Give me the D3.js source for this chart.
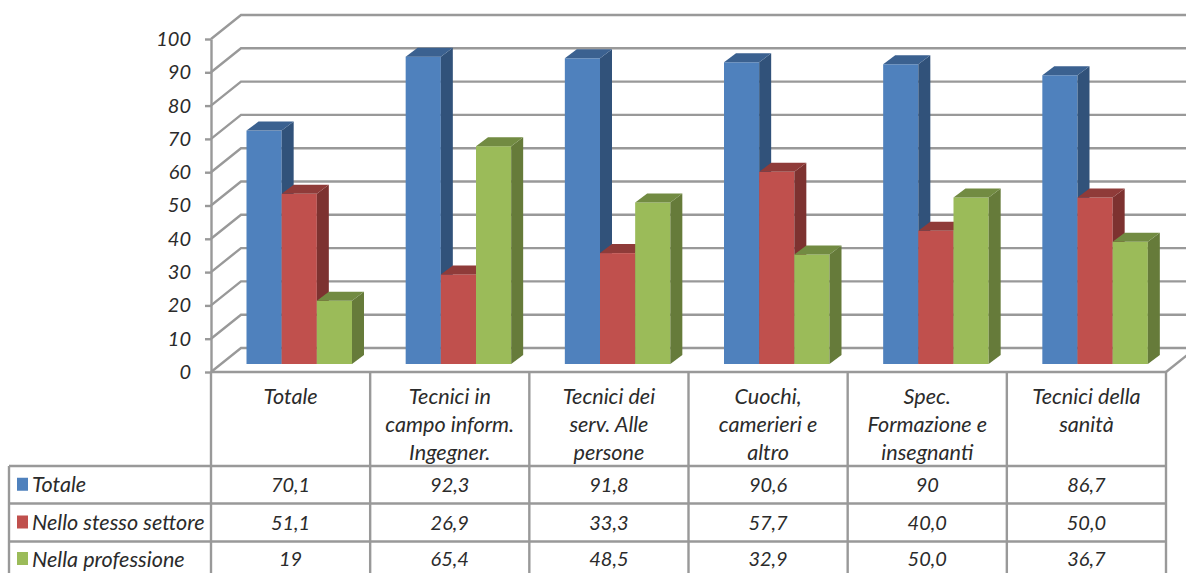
<!DOCTYPE html>
<html>
<head>
<meta charset="utf-8">
<script src="https://cdn.jsdelivr.net/npm/d3@7"></script>
<style>
	html, body { margin: 0; padding: 0; background: #fff; overflow: hidden; }
	svg { display: block; }
	text { font-family: Lato, sans-serif; font-style: italic; fill: #2b2b2b; }
</style>
</head>
<body>
<div id="chart"></div>
<script>
var categories = ['Totale', 'Tecnici in campo inform. Ingegner.', 'Tecnici dei serv. Alle persone', 'Cuochi, camerieri e altro', 'Spec. Formazione e insegnanti', 'Tecnici della sanità'];
var categoryLines = [
	['Totale'],
	['Tecnici in', 'campo inform.', 'Ingegner.'],
	['Tecnici dei', 'serv. Alle', 'persone'],
	['Cuochi,', 'camerieri e', 'altro'],
	['Spec.', 'Formazione e', 'insegnanti'],
	['Tecnici della', 'sanità']
];
var seriesNames = ['Totale', 'Nello stesso settore', 'Nella professione'];
var totale = ['70,1', '92,3', '91,8', '90,6', '90', '86,7'];
var stessoSettore = ['51,1', '26,9', '33,3', '57,7', '40,0', '50,0'];
var professione = ['19', '65,4', '48,5', '32,9', '50,0', '36,7'];
var yTicks = [0, 10, 20, 30, 40, 50, 60, 70, 80, 90, 100];

var rows = [totale, stessoSettore, professione];
var front = ['#4f81bd', '#c0504d', '#9bbb59'];
var side = ['#31527a', '#7d3230', '#667b3a'];
var top_ = ['#3b6190', '#8f3b39', '#728b42'];
var grid = '#999999';

function num(s) { return +s.replace(',', '.'); }

var W = 1186, H = 573;
var svg = d3.select('#chart').append('svg').attr('width', W).attr('height', H);

// wall depth of the 3d box, and the smaller depth of each column
var wallX = 30, wallY = -24;
var barX = 12, barY = -9;
var floorInset = 8; // columns stand this far behind the front edge

var x = d3.scaleBand().domain(categories).range([211, 1166]);
var y = d3.scaleLinear().domain([0, 100]).range([372, 39]);
var inner = d3.scaleBand().domain(d3.range(3)).range([35.5, 141]);

// back wall lines and the slanted ones on the side wall
var gridG = svg.append('g').attr('fill', 'none').attr('stroke', grid).attr('stroke-width', 2.4);
gridG.selectAll('path.wall').data(yTicks).enter().append('path')
	.attr('class', 'wall')
	.attr('d', function(d) {
		return 'M211,' + y(d) + 'L' + (211 + wallX) + ',' + (y(d) + wallY) + 'H' + (1166 + wallX);
	});
gridG.append('path')
	.attr('d', 'M1166,' + y(0) + 'L' + (1166 + wallX) + ',' + (y(0) + wallY));

// columns, painted left to right so each one sits over its neighbour's side face
var bars = svg.append('g');
categories.forEach(function(cat, c) {
	rows.forEach(function(row, s) {
		var v = num(row[c]);
		var x0 = x(cat) + inner(s);
		var x1 = x0 + inner.bandwidth();
		var y0 = y(0) - floorInset;
		var y1 = y(v) - floorInset;
		var g = bars.append('g');
		g.append('rect')
			.attr('x', x0).attr('y', y1)
			.attr('width', x1 - x0).attr('height', y0 - y1)
			.attr('fill', front[s]);
		g.append('path')
			.attr('d', 'M' + x1 + ',' + y1 + 'L' + (x1 + barX) + ',' + (y1 + barY) + 'V' + (y0 + barY) + 'L' + x1 + ',' + y0 + 'Z')
			.attr('fill', side[s]);
		g.append('path')
			.attr('d', 'M' + x0 + ',' + y1 + 'L' + (x0 + barX) + ',' + (y1 + barY) + 'H' + (x1 + barX) + 'L' + x1 + ',' + y1 + 'Z')
			.attr('fill', top_[s]);
	});
});

// value axis
var axis = svg.append('g')
	.attr('transform', 'translate(211,0)')
	.call(d3.axisLeft(y).tickValues(yTicks).tickSize(6).tickPadding(14).tickSizeOuter(0));
axis.selectAll('path, line').attr('stroke', grid).attr('stroke-width', 2.4);
axis.selectAll('text')
	.attr('fill', '#2b2b2b')
	.style('font-family', 'Lato, sans-serif')
	.style('font-size', '20px');

// data table under the chart
var rowY = [466, 503.5, 541.5, 579];
var colX = x.domain().map(function(d) { return x(d); }).concat([1166]);
var table = svg.append('g').attr('fill', 'none').attr('stroke', grid).attr('stroke-width', 2.4);
table.append('line').attr('x1', 211).attr('x2', 1166).attr('y1', y(0)).attr('y2', y(0));
rowY.forEach(function(ry) {
	table.append('line').attr('x1', 9).attr('x2', 1166).attr('y1', ry).attr('y2', ry);
});
table.append('line').attr('x1', 9).attr('x2', 9).attr('y1', rowY[0]).attr('y2', rowY[3]);
colX.forEach(function(cx) {
	table.append('line').attr('x1', cx).attr('x2', cx).attr('y1', y(0)).attr('y2', rowY[3]);
});

var labelSize = 21.6;
var valueSize = 20;
var lineGap = 28;
categories.forEach(function(cat, c) {
	categoryLines[c].forEach(function(line, i) {
		svg.append('text')
			.attr('x', x(cat) + x.bandwidth() / 2)
			.attr('y', 396 + i * lineGap)
			.attr('dy', '0.35em')
			.attr('text-anchor', 'middle')
			.style('font-size', labelSize + 'px')
			.text(line);
	});
});

rows.forEach(function(row, s) {
	var cy = (rowY[s] + rowY[s + 1]) / 2;
	if (s === 2) cy = 559; // last row is cut by the page edge

	svg.append('rect')
		.attr('x', 17).attr('y', cy - 7)
		.attr('width', 11).attr('height', 13)
		.attr('fill', front[s]);
	svg.append('text')
		.attr('x', 32).attr('y', cy).attr('dy', '0.35em')
		.style('font-size', labelSize + 'px')
		.text(seriesNames[s]);

	categories.forEach(function(cat, c) {
		svg.append('text')
			.attr('x', x(cat) + x.bandwidth() / 2)
			.attr('y', cy).attr('dy', '0.35em')
			.attr('text-anchor', 'middle')
			.style('font-size', valueSize + 'px')
			.text(row[c]);
	});
});
</script>
</body>
</html>
